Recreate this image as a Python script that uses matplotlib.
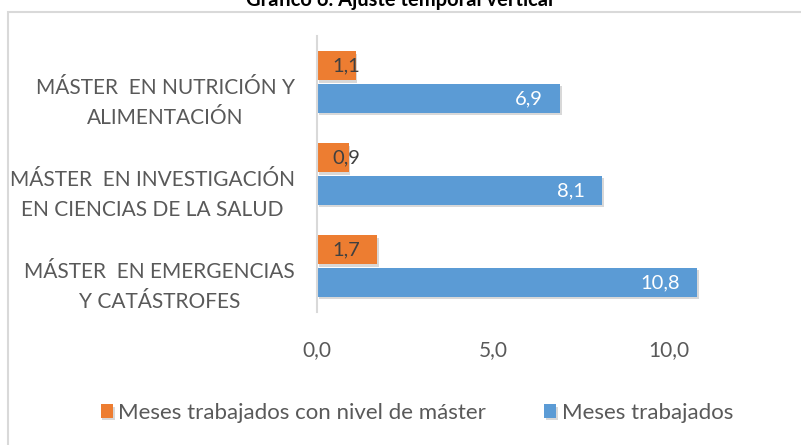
import numpy as np
import matplotlib.pyplot as plt
from matplotlib.patches import Rectangle
import matplotlib.patheffects as pe

plt.rcParams['font.family'] = ['Lato', 'DejaVu Sans']

categorias = ['MÁSTER  EN EMERGENCIAS\nY CATÁSTROFES',
              'MÁSTER  EN INVESTIGACIÓN\nEN CIENCIAS DE LA SALUD',
              'MÁSTER  EN NUTRICIÓN Y\nALIMENTACIÓN']
meses_master = [1.7, 0.9, 1.1]
meses_trabajados = [10.8, 8.1, 6.9]
ticks = [0, 5, 10]

naranja = '#ED7D31'
azul = '#5B9BD5'
gris = '#595959'

W, H = 801, 445
fig = plt.figure(figsize=(W / 100, H / 100), dpi=100)

# marco del grafico
fig.patches.append(Rectangle((8 / W, -0.05), 1.0, 1.05 - 12 / H, transform=fig.transFigure,
                             fill=False, edgecolor='#D9D9D9', linewidth=1.5))
fig.text(400 / W, 1 - 6 / H, 'Gráfico 6. Ajuste temporal vertical', ha='center', va='baseline',
         fontsize=14.5, fontweight='bold', color='black')

ax = fig.add_axes([317 / W, 1 - 312 / H, 440 / W, 276 / H])
y = np.arange(len(categorias))
h = 0.315
off = 0.179

sombra = [pe.SimplePatchShadow(offset=(1.2, -1.8), shadow_rgbFace='#808080', alpha=0.3), pe.Normal()]
b1 = ax.barh(y + off, meses_master, height=h, color=naranja, label='Meses trabajados con nivel de máster',
             path_effects=sombra)
b2 = ax.barh(y - off, meses_trabajados, height=h, color=azul, label='Meses trabajados',
             path_effects=sombra)

for b, v in zip(b1, meses_master):
    ax.text(0.43, b.get_y() + b.get_height() / 2, f'{v:.1f}'.replace('.', ','),
            ha='left', va='center', fontsize=14.5, color='#404040')
for b, v in zip(b2, meses_trabajados):
    ax.text(v - 0.5, b.get_y() + b.get_height() / 2, f'{v:.1f}'.replace('.', ','),
            ha='right', va='center', fontsize=14.5, color='white')

ax.set_xlim(0, 12.5)
ax.set_ylim(-0.5, 2.5)
# las etiquetas quedan algo por debajo del centro de cada categoria
ax.set_yticks(y - 0.15)
ax.set_yticklabels(categorias, fontsize=15, color=gris, multialignment='center', linespacing=1.65)
ax.set_xticks(ticks)
ax.set_xticklabels([f'{t:.1f}'.replace('.', ',') for t in ticks], fontsize=15, color=gris)
ax.tick_params(axis='both', length=0)
ax.tick_params(axis='y', pad=16)
ax.tick_params(axis='x', pad=20)
for s in ['top', 'right', 'bottom']:
    ax.spines[s].set_visible(False)
ax.spines['left'].set_color('#D9D9D9')
ax.spines['left'].set_linewidth(1.5)

leg = fig.legend(handles=[b1, b2], loc='center', bbox_to_anchor=(417 / W, 1 - 413 / H), ncol=2,
                 frameon=False, fontsize=16, handlelength=0.55, handleheight=0.55,
                 handletextpad=0.25, columnspacing=2.6)
for t in leg.get_texts():
    t.set_color(gris)

fig.savefig('out.png', dpi=100)
